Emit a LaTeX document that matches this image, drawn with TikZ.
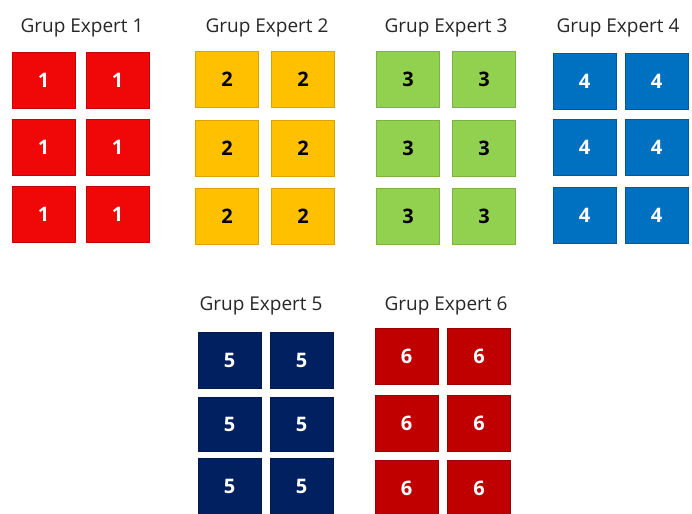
\documentclass[tikz,border=0pt]{standalone}
\usepackage{fontspec}
\setmainfont{Open Sans}
\definecolor{cred}{RGB}{240,8,8}
\definecolor{cyel}{RGB}{255,192,0}
\definecolor{cgrn}{RGB}{146,208,80}
\definecolor{cblu}{RGB}{0,112,192}
\definecolor{cnav}{RGB}{0,32,96}
\definecolor{cdrd}{RGB}{192,0,0}
\tikzset{
  cell/.style={rectangle, minimum width=63pt, minimum height=56pt, inner sep=0pt, line width=0.6pt, font=\fontsize{20}{22}\selectfont\bfseries},
  g1/.style={cell, fill=cred, draw=cred!80!black, text=white},
  g2/.style={cell, fill=cyel, draw=cyel!85!black, text=black},
  g3/.style={cell, fill=cgrn, draw=cgrn!85!black, text=black},
  g4/.style={cell, fill=cblu, draw=cblu!80!black, text=white},
  g5/.style={cell, fill=cnav, draw=cnav!80!black, text=white},
  g6/.style={cell, fill=cdrd, draw=cdrd!80!black, text=white},
  title/.style={font=\fontsize{19}{22}\selectfont, text=black!85, inner sep=0pt}
}
\begin{document}
\begin{tikzpicture}[x=1pt,y=-1pt]
\useasboundingbox (0,0) rectangle (692,513);
\clip (0,0) rectangle (692,513);
% Group 1
\node[title] (t1) at (82,28) {Grup Expert 1};
\node[g1] (a11) at (43.5,80.5) {1};
\node[g1] (a12) at (117.5,80.5) {1};
\node[g1] (a21) at (43.5,147.5) {1};
\node[g1] (a22) at (117.5,147.5) {1};
\node[g1] (a31) at (43.5,214.5) {1};
\node[g1] (a32) at (117.5,214.5) {1};
% Group 2
\node[title] (t2) at (267,28) {Grup Expert 2};
\node[g2] (b11) at (227,79) {2};
\node[g2] (b12) at (303,79) {2};
\node[g2] (b21) at (227,148) {2};
\node[g2] (b22) at (303,148) {2};
\node[g2] (b31) at (227,216) {2};
\node[g2] (b32) at (303,216) {2};
% Group 3
\node[title] (t3) at (446,28) {Grup Expert 3};
\node[g3] (c11) at (408,79.5) {3};
\node[g3] (c12) at (484,79.5) {3};
\node[g3] (c21) at (408,148) {3};
\node[g3] (c22) at (484,148) {3};
\node[g3] (c31) at (408,216) {3};
\node[g3] (c32) at (484,216) {3};
% Group 4
\node[title] (t4) at (618,28) {Grup Expert 4};
\node[g4] (d11) at (584.5,81) {4};
\node[g4] (d12) at (656.5,81) {4};
\node[g4] (d21) at (584.5,147.5) {4};
\node[g4] (d22) at (656.5,147.5) {4};
\node[g4] (d31) at (584.5,215.5) {4};
\node[g4] (d32) at (656.5,215.5) {4};
% Group 5
\node[title] (t5) at (261,306) {Grup Expert 5};
\node[g5] (e11) at (229.5,360.5) {5};
\node[g5] (e12) at (301.5,360.5) {5};
\node[g5, minimum height=54pt] (e21) at (229.5,424) {5};
\node[g5, minimum height=54pt] (e22) at (301.5,424) {5};
\node[g5] (e31) at (229.5,486.5) {5};
\node[g5] (e32) at (301.5,486.5) {5};
% Group 6
\node[title] (t6) at (446,306) {Grup Expert 6};
\node[g6] (f11) at (406.5,356.5) {6};
\node[g6] (f12) at (479,356.5) {6};
\node[g6] (f21) at (406.5,423) {6};
\node[g6] (f22) at (479,423) {6};
\node[g6] (f31) at (406.5,488.5) {6};
\node[g6] (f32) at (479,488.5) {6};
\end{tikzpicture}
\end{document}
